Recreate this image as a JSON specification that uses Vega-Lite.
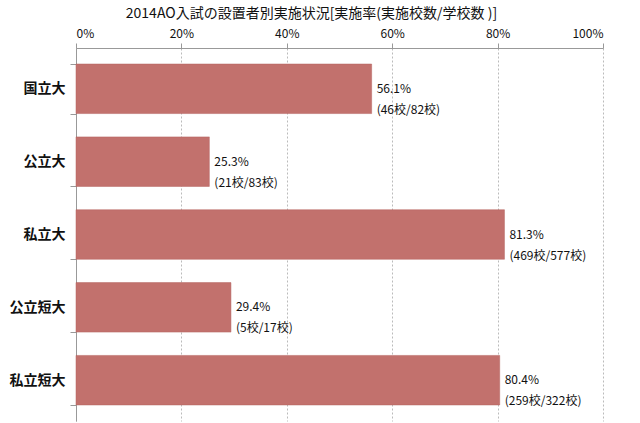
{
  "$schema": "https://vega.github.io/schema/vega-lite/v6.json",
  "autosize": "none",
  "width": 527,
  "height": 373,
  "padding": {"left": 76, "top": 48, "right": 37, "bottom": 2},
  "background": "white",
  "title": {
    "text": "2014AO入試の設置者別実施状況[実施率(実施校数/学校数 )]",
    "fontSize": 14,
    "fontWeight": "normal",
    "font": "Noto Sans CJK JP",
    "color": "#111",
    "anchor": "middle",
    "dx": -28,
    "offset": 6
  },
  "data": {
    "values": [
      {"type": "国立大", "rate": 56.1, "label": "56.1%\n(46校/82校)"},
      {"type": "公立大", "rate": 25.3, "label": "25.3%\n(21校/83校)"},
      {"type": "私立大", "rate": 81.3, "label": "81.3%\n(469校/577校)"},
      {"type": "公立短大", "rate": 29.4, "label": "29.4%\n(5校/17校)"},
      {"type": "私立短大", "rate": 80.4, "label": "80.4%\n(259校/322校)"}
    ]
  },
  "config": {
    "view": {"stroke": null},
    "font": "Noto Sans CJK JP"
  },
  "encoding": {
    "y": {
      "field": "type",
      "type": "nominal",
      "sort": null,
      "scale": {"paddingInner": 0.32, "paddingOuter": 0.22},
      "axis": {
        "title": null,
        "labelFontSize": 14,
        "labelFontWeight": "bold",
        "labelColor": "#111",
        "labelPadding": 5,
        "tickBand": "extent",
        "tickSize": 6,
        "tickColor": "#999",
        "domainColor": "#999",
        "grid": false
      }
    }
  },
  "layer": [
    {
      "mark": {"type": "bar", "color": "#c2716d", "stroke": "#b4625f", "strokeWidth": 0.5},
      "encoding": {
        "x": {
          "field": "rate",
          "type": "quantitative",
          "scale": {"domain": [0, 100]},
          "axis": {
            "orient": "top",
            "title": null,
            "values": [0, 20, 40, 60, 80, 100],
            "labelExpr": "datum.value + '%'",
            "labelFontSize": 12,
            "labelColor": "#111",
            "labelPadding": 3,
            "tickSize": 5,
            "tickColor": "#999",
            "domainColor": "#999",
            "grid": true,
            "gridColor": "#bbb",
            "gridDash": [2, 2],
            "gridWidth": 1
          }
        }
      }
    },
    {
      "mark": {"type": "text", "align": "left", "baseline": "middle", "dx": 5, "fontSize": 12, "lineBreak": "\n", "lineHeight": 21, "color": "#111"},
      "encoding": {
        "x": {"field": "rate", "type": "quantitative"},
        "text": {"field": "label"}
      }
    }
  ]
}
